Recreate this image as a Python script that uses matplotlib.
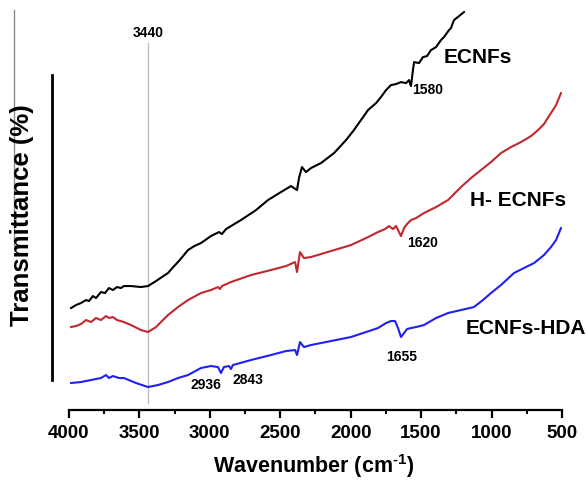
import matplotlib
matplotlib.use("Agg")
import matplotlib.pyplot as plt
from matplotlib.lines import Line2D

plt.rcParams['font.family'] = ['Liberation Sans', 'DejaVu Sans']
plt.rcParams['font.weight'] = 'bold'
plt.rcParams['mathtext.fontset'] = 'custom'
plt.rcParams['mathtext.rm'] = 'Liberation Sans:bold'
plt.rcParams['mathtext.it'] = 'Liberation Sans:bold'
plt.rcParams['mathtext.bf'] = 'Liberation Sans:bold'

# FTIR spectra (wavenumber in cm-1, transmittance in arbitrary %)
ecnfs_wn = [3985, 3950, 3915, 3879, 3858, 3830, 3808, 3773, 3744, 3716, 3688, 3659, 3631, 3610,
            3560, 3489, 3439, 3382, 3340, 3297, 3260, 3226, 3190, 3155, 3110, 3063, 2992, 2935, 2914,
            2885, 2779, 2672, 2587, 2495, 2424, 2381, 2367, 2346, 2317, 2282, 2211, 2118, 2033, 1977,
            1927, 1877, 1820, 1785, 1749, 1714, 1678, 1643, 1607, 1586, 1572, 1558, 1550, 1515, 1487,
            1458, 1430, 1394, 1359, 1338, 1302, 1288, 1267, 1231, 1196]
ecnfs_t = [24.75, 25.5, 26, 26.75, 26.5, 27.75, 27.25, 28.75, 28.5, 29.75, 29.25, 30, 29.75, 30.25,
           30.25, 30, 30.25, 31.5, 32.5, 33.5, 35, 36.25, 37.75, 39.25, 40.25, 41, 42.75, 43.75, 43.25,
           44.5, 46.75, 49.25, 51.75, 53.75, 55.25, 54.25, 57.25, 60, 58.75, 59.75, 61, 63.5, 66.75, 69.25,
           71.75, 74.25, 76, 77.5, 79.25, 80.5, 80.75, 81.25, 81, 81.75, 80.25, 84.25, 86.25, 86, 87.5,
           87.75, 89.25, 90, 91.75, 92.5, 94.25, 94.75, 96.75, 97.75, 98.75]

h_ecnfs_wn = [3985, 3950, 3915, 3879, 3844, 3808, 3773, 3737, 3716, 3688, 3659, 3610, 3560, 3489,
              3439, 3382, 3340, 3297, 3226, 3155, 3063, 2992, 2942, 2928, 2914, 2850, 2708, 2566, 2459,
              2395, 2381, 2360, 2332, 2282, 2140, 1998, 1891, 1806, 1756, 1728, 1700, 1678, 1657,
              1643, 1621, 1600, 1572, 1536, 1480, 1394, 1309, 1217, 1146, 1075, 1004, 933, 862,
              791, 720, 670, 628, 578, 542, 507]
h_ecnfs_t = [20, 20.25, 20.75, 21.75, 21.25, 22.25, 21.75, 22.75, 22.25, 22.5, 21.75, 21.25, 20.5, 19.25,
             18.75, 20, 21.5, 23, 25, 26.75, 28.5, 29.25, 30, 29.5, 30.25, 31.25, 33, 34.25, 35.25,
             36.25, 33.75, 38.75, 37.25, 37.5, 39, 40.5, 42.25, 43.75, 44.5, 45.25, 44.5, 45.25, 43.75,
             42.75, 44.75, 45.75, 46.75, 47.25, 48.5, 50, 51.75, 55, 57.25, 59.25, 61.25, 63.5, 65,
             66.25, 67.75, 69.25, 70.75, 73.5, 75.5, 78.5]

hda_wn = [3985, 3915, 3844, 3773, 3737, 3716, 3688, 3645, 3610, 3524, 3439, 3368, 3297, 3226,
          3155, 3063, 2992, 2942, 2921, 2900, 2864, 2850, 2836, 2708, 2566, 2459, 2395, 2381,
          2360, 2332, 2282, 2140, 1998, 1891, 1806, 1749, 1714, 1685, 1664, 1643, 1621, 1600,
          1572, 1536, 1480, 1394, 1309, 1217, 1125, 1061, 1004, 933, 841, 770, 698, 628,
          578, 542, 507]
hda_t = [6, 6.25, 6.75, 7.25, 8, 7.25, 7.75, 7.25, 7.25, 6, 5, 5.5, 6.25, 7.25,
         8, 9.75, 10.25, 10, 8.5, 10, 10.25, 9.5, 10.5, 11.75, 13, 14, 14.25, 13,
         16.25, 15, 15.5, 16.5, 17.5, 18.75, 19.75, 21, 21.5, 21.5, 19.75, 17.5, 18.5, 19.5,
         19.75, 20, 20.5, 22.25, 23.5, 24.25, 25, 26.75, 28.5, 30.5, 33.5, 34.75, 36, 38,
         40, 41.75, 44.75]

# peak labels: text, wavenumber, height
peak_labels = ["3440", "1580", "1620", "1655", "2936", "2843"]
peak_wn = [3439, 1451, 1487, 1636, 3027, 2729]
peak_t = [93.5, 79.25, 41, 12.5, 5.5, 6.75]

series_names = ["ECNFs", "H- ECNFs", "ECNFs-HDA"]
name_wn = [1096, 812, 755]
name_t = [87.5, 51.75, 19.75]

fig = plt.figure(figsize=(5.86, 4.83), dpi=100)
ax = fig.add_axes([0.1177, 0.1511, 0.8413, 0.828])

# reference line at 3440
ax.plot([3440, 3440], [1, 91], color='#bdbdbd', lw=1, zorder=1)

ax.plot(ecnfs_wn, ecnfs_t, color='black', lw=1.5, zorder=3)
ax.plot(h_ecnfs_wn, h_ecnfs_t, color='#c0282d', lw=1.5, zorder=3)
ax.plot(hda_wn, hda_t, color='#2020f0', lw=1.5, zorder=3)

for lab, x, y in zip(peak_labels, peak_wn, peak_t):
    ax.text(x, y, lab, ha='center', va='center', fontsize=10, fontweight='bold')
for lab, x, y in zip(series_names, name_wn, name_t):
    ax.text(x, y, lab, ha='center', va='center', fontsize=15, fontweight='bold')

ax.set_xlim(4000, 500)
ax.set_ylim(-0.75, 99.25)
ax.set_xticks([4000, 3500, 3000, 2500, 2000, 1500, 1000, 500])
ax.set_xticks([3750, 3250, 2750, 2250, 1750, 1250, 750], minor=True)
ax.tick_params(axis='x', which='major', direction='out', length=6, width=1.6,
               labelsize=13.5, pad=5)
ax.tick_params(axis='x', which='minor', direction='out', length=3, width=1.4)
for t in ax.get_xticklabels():
    t.set_fontweight('bold')
ax.set_yticks([])

ax.spines['top'].set_visible(False)
ax.spines['right'].set_visible(False)
ax.spines['bottom'].set_linewidth(1.6)
ax.spines['left'].set_position(('outward', 12))
ax.spines['left'].set_bounds(6.75, 83)
ax.spines['left'].set_linewidth(2)

fig.text(0.536, 0.035, r'Wavenumber (cm$^{\text{-1}}$)', ha='center', va='center',
         fontsize=15.5, fontweight='bold')
fig.text(0.038, 0.555, 'Transmittance (%)', ha='center', va='center', rotation=90,
         fontsize=18.5, fontweight='bold')

# thin grey stroke at the left edge of the original figure
fig.add_artist(Line2D([14 / 586, 14 / 586], [1 - 245 / 483, 1 - 10 / 483],
                      color='#8c8c8c', lw=1, zorder=0))

plt.savefig('out.png', dpi=100)
